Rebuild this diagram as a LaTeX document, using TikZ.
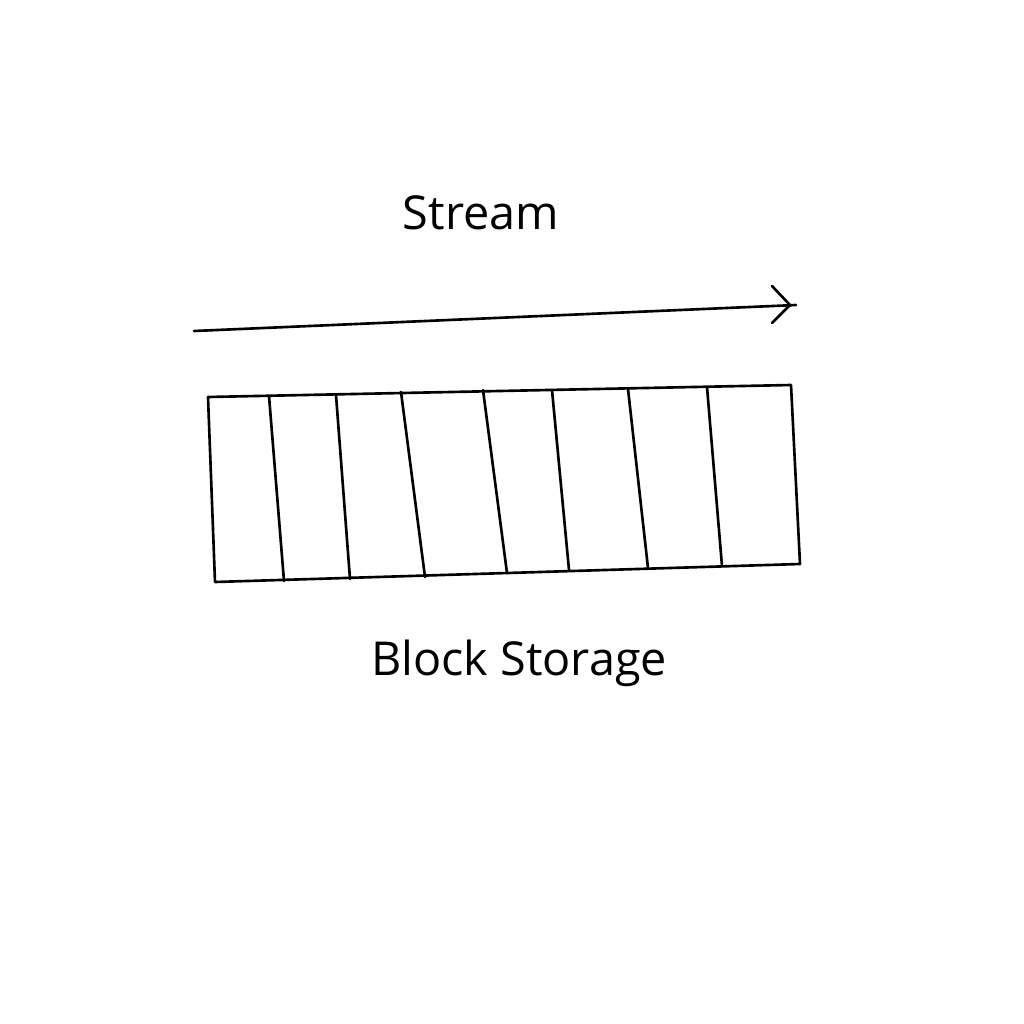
\documentclass[tikz,border=0pt]{standalone}
\usepackage{fontspec}
\setmainfont{Open Sans}
\begin{document}
\begin{tikzpicture}[x=0.01cm,y=-0.01cm,
  sketch/.style={draw=black,line width=0.75pt,line cap=round,line join=round},
  label/.style={font=\fontsize{13.3}{15}\selectfont,inner sep=0pt,anchor=base}]
\useasboundingbox (0,0) rectangle (1024,1024);
% labels
\node[label] (stream) at (481,229) {Stream};
\node[label] (block) at (519,675) {Block Storage};
% arrow
\coordinate (a0) at (194,331);
\coordinate (a1) at (796,305);
\coordinate (h1) at (772,286);
\coordinate (h2) at (772,323);
\coordinate (tip) at (790,305);
\draw[sketch] (a0) -- (a1);
\draw[sketch] (h1) -- (tip) -- (h2);
% block storage box
\coordinate (tl) at (208,397);
\coordinate (tr) at (791,385);
\coordinate (br) at (800,564);
\coordinate (bl) at (215,582);
\draw[sketch] (tl) -- (tr) -- (br) -- (bl) -- cycle;
% dividers
\foreach \xt/\yt/\xb/\yb [count=\i] in {269/396/284/581, 336/395/350/579, 401/392/425/577, 483/390/507/573, 552/390/569/570, 628/389/648/568, 707/387/722/566}{
  \coordinate (t\i) at (\xt,\yt);
  \coordinate (b\i) at (\xb,\yb);
  \draw[sketch] (t\i) -- (b\i);
}
\end{tikzpicture}
\end{document}
